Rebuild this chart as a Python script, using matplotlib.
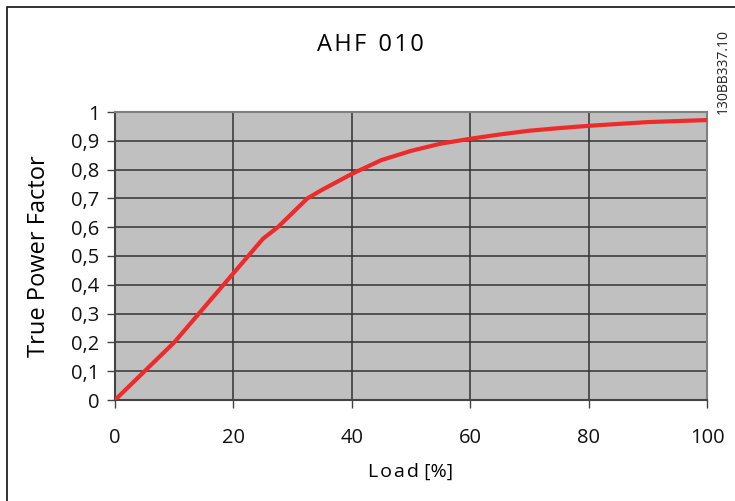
import numpy as np
import matplotlib.pyplot as plt
from matplotlib.patches import Rectangle

# data
load = [0, 2.5, 5, 7.5, 10, 12.5, 15, 17.5, 20, 22.5, 25, 27.5, 32.5, 35, 40, 45, 50, 55, 60, 65, 70, 75, 80, 90, 100]
pf = [0, 0.05, 0.10, 0.15, 0.20, 0.26, 0.32, 0.38, 0.44, 0.50, 0.56, 0.60, 0.70, 0.73, 0.785,
      0.833, 0.865, 0.89, 0.907, 0.922, 0.935, 0.944, 0.952, 0.965, 0.972]

x_ticks = [0, 20, 40, 60, 80, 100]
y_ticks = [0, 0.1, 0.2, 0.3, 0.4, 0.5, 0.6, 0.7, 0.8, 0.9, 1.0]
y_labels = ["0", "0,1", "0,2", "0,3", "0,4", "0,5", "0,6", "0,7", "0,8", "0,9", "1"]

plt.rcParams['font.family'] = ['Open Sans', 'DejaVu Sans']


def spaced(s):
    # slight letter spacing, like the original artwork
    return "\u200a".join(s)


fig = plt.figure(figsize=(7.35, 5.01), dpi=100)
ax = fig.add_axes([115 / 735, 1 - 400 / 501, 592 / 735, 288 / 501])

# frame round the whole picture (right and bottom edges fall outside)
fig.patches.append(Rectangle((7 / 735, -0.1), 1.2, 1 - 7 / 501 + 0.1,
                             transform=fig.transFigure, fill=False,
                             edgecolor='#222222', linewidth=1.3))

ax.set_facecolor('#c0c0c0')
ax.plot(load, pf, color='#ee2a2a', linewidth=3, solid_capstyle='round', zorder=3)

ax.set_xlim(0, 100)
ax.set_ylim(0, 1)
ax.set_xticks(x_ticks)
ax.set_yticks(y_ticks)
ax.set_yticklabels(y_labels)
ax.grid(True, color='#333333', linewidth=1.1)
ax.set_axisbelow(True)

for side in ['top', 'right']:
    ax.spines[side].set_color('#808080')
    ax.spines[side].set_linewidth(1.5)
for side in ['left', 'bottom']:
    ax.spines[side].set_color('#444444')
    ax.spines[side].set_linewidth(1.5)

ax.tick_params(axis='both', direction='out', length=6, width=1, color='#444444',
               labelsize=14.5, labelcolor='#111111')
ax.tick_params(axis='x', pad=14)
ax.tick_params(axis='y', pad=5)

ax.set_xlabel(spaced("Load") + " [%]", fontsize=14, labelpad=11)
ax.set_ylabel("True Power Factor", fontsize=17, labelpad=15)
fig.text(370 / 735, 1 - 45 / 501, spaced("AHF") + "  " + spaced("010"), fontsize=17,
         ha='center', va='center')
fig.text(723 / 735, 1 - 72 / 501, "130BB337.10", fontsize=10, rotation=90,
         ha='center', va='center', color='#222222')

fig.savefig("out.png", dpi=100)
